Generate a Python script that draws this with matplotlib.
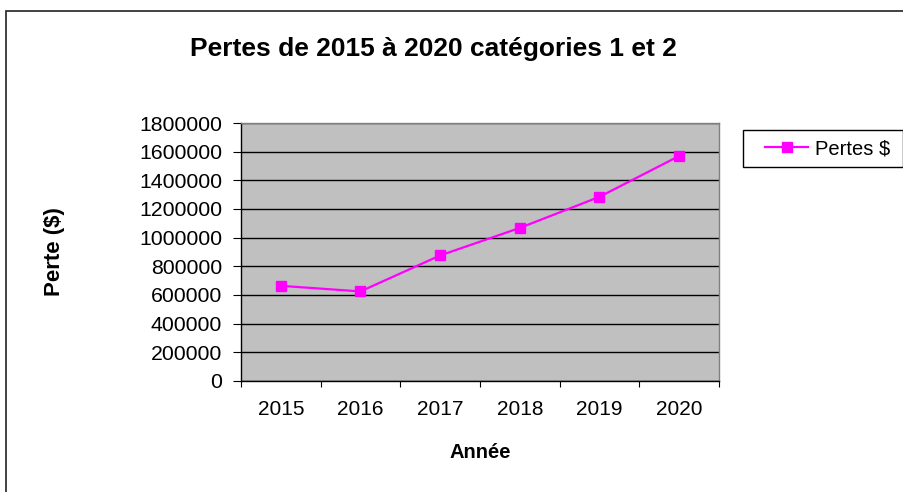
import matplotlib
matplotlib.use("Agg")
import matplotlib.pyplot as plt
from matplotlib.patches import Rectangle

years = ["2015", "2016", "2017", "2018", "2019", "2020"]
pertes = [664000, 625000, 876000, 1068000, 1285000, 1570000]
y_ticks = [0, 200000, 400000, 600000, 800000, 1000000, 1200000, 1400000, 1600000, 1800000]

plt.rcParams['font.family'] = ['Liberation Sans', 'DejaVu Sans']

fig = plt.figure(figsize=(9.04, 4.92), dpi=100)
fig.patch.set_facecolor('white')

# outer chart border
fig.patches.append(Rectangle((6/904, -0.1), 1.2, (492-11)/492 + 0.1, transform=fig.transFigure,
                             fill=False, edgecolor='#222222', linewidth=1.2, zorder=0))
# legend box
fig.patches.append(Rectangle((743/904, (492-167)/492), 160/904, 37/492, transform=fig.transFigure,
                             fill=False, edgecolor='black', linewidth=1.0, zorder=1))

ax = fig.add_axes([241/904, (492-381)/492, 478/904, 258/492])
ax.set_facecolor('#C0C0C0')

x = list(range(len(years)))
ax.plot(x, pertes, color='#FF00FF', linewidth=1.6, marker='s', markersize=7.5,
        markerfacecolor='#FF00FF', markeredgecolor='#FF00FF', label='Pertes $', zorder=3)

ax.set_xlim(-0.5, len(years) - 0.5)
ax.set_ylim(0, 1800000)
ax.set_yticks(y_ticks)
ax.set_yticklabels([str(v) for v in y_ticks], fontsize=15.3)
ax.yaxis.grid(True, color='black', linewidth=1.0)
ax.set_axisbelow(True)

ax.set_xticks([i - 0.5 for i in range(len(years) + 1)])
ax.set_xticklabels([])
ax.set_xticks(x, minor=True)
ax.set_xticklabels(years, minor=True, fontsize=15)
ax.tick_params(axis='x', which='minor', length=0, pad=14)
ax.tick_params(axis='x', which='major', length=4.5, direction='out', color='black')
ax.tick_params(axis='y', length=5.5, direction='out', color='black', pad=8)

for s in ['top', 'right']:
    ax.spines[s].set_color('#808080')
    ax.spines[s].set_linewidth(1.0)
for s in ['left', 'bottom']:
    ax.spines[s].set_color('black')
    ax.spines[s].set_linewidth(1.0)

ax.set_xlabel('Année', fontsize=14.5, fontweight='bold')
ax.set_ylabel('Perte ($)', fontsize=16, fontweight='bold')
ax.yaxis.set_label_coords((54 - 241) / 478, 0.5)
ax.xaxis.set_label_coords(0.5, -(453 - 381) / 258)
ax.xaxis.label.set_va('center')
ax.yaxis.label.set_va('center')

fig.text(433/904, (492-49)/492, 'Pertes de 2015 à 2020 catégories 1 et 2',
         ha='center', va='center', fontsize=19, fontweight='bold')

leg = fig.legend(loc='center left', bbox_to_anchor=(765/904, (492-148.5)/492), fontsize=14.5,
                 frameon=False, borderpad=0, handlelength=2.14, handletextpad=0.35,
                 borderaxespad=0)

fig.savefig('out.png', dpi=100)
